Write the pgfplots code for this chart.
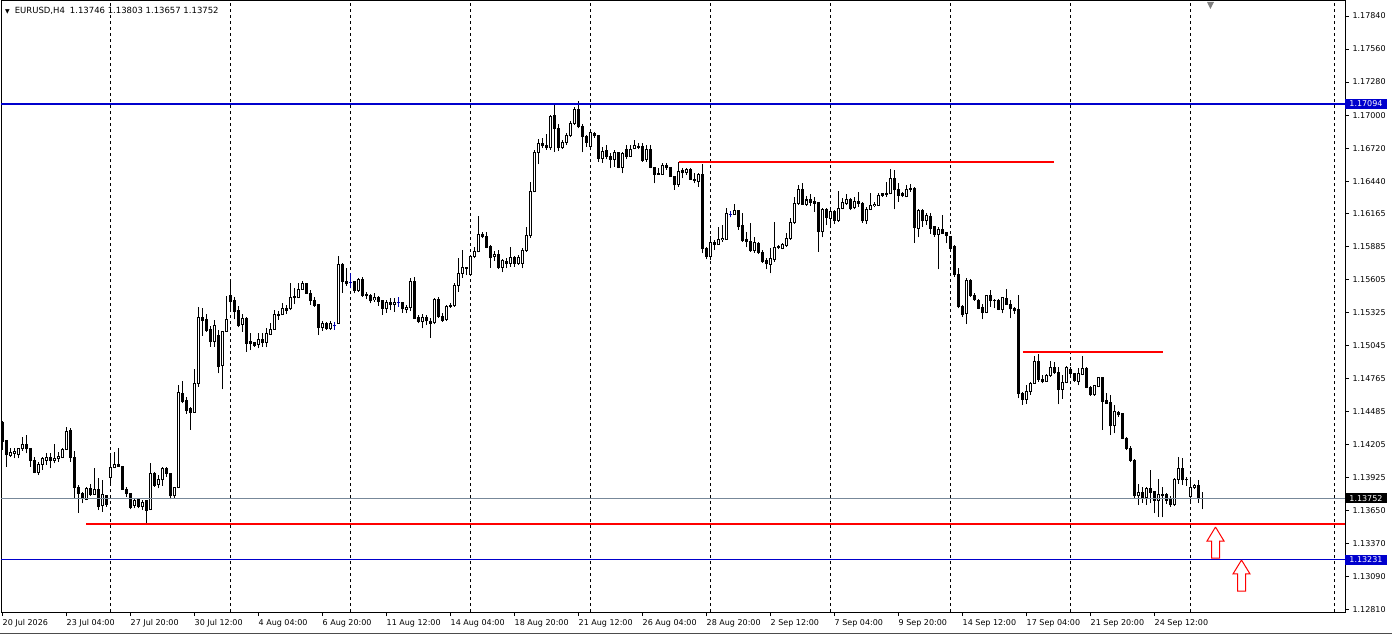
\documentclass[border=0pt]{standalone}
\usepackage{fontspec}
\setmainfont{DejaVu Sans}
\usepackage{pgfplots}
\usepackage{pgfplotstable}
\pgfplotsset{compat=1.18}
\definecolor{mtblue}{RGB}{0,0,205}
\definecolor{mtred}{RGB}{255,0,0}
\definecolor{bidgray}{RGB}{119,136,153}
\definecolor{dojiblue}{RGB}{0,0,170}

\pgfplotstableread{
i o h l c
0 1.14392 1.14409 1.14160 1.14231
1 1.14237 1.14245 1.14019 1.14118
2 1.14112 1.14180 1.14104 1.14140
3 1.14132 1.14174 1.14090 1.14146
4 1.14123 1.14180 1.14090 1.14174
5 1.14169 1.14273 1.14155 1.14203
6 1.14203 1.14287 1.14132 1.14169
7 1.14169 1.14174 1.14019 1.14070
8 1.14075 1.14104 1.13962 1.13968
9 1.13968 1.14061 1.13948 1.14041
10 1.14039 1.14104 1.13991 1.14084
11 1.14075 1.14132 1.14033 1.14098
12 1.14098 1.14132 1.14005 1.14070
13 1.14070 1.14211 1.14047 1.14090
14 1.14090 1.14146 1.14061 1.14104
15 1.14098 1.14174 1.14090 1.14166
16 1.14166 1.14358 1.14160 1.14321
17 1.14324 1.14350 1.14061 1.14098
18 1.14098 1.14155 1.13750 1.13844
19 1.13844 1.13863 1.13629 1.13793
20 1.13793 1.13807 1.13708 1.13750
21 1.13742 1.13844 1.13736 1.13835
22 1.13835 1.13872 1.13770 1.13779
23 1.13784 1.14005 1.13779 1.13827
24 1.13827 1.13920 1.13651 1.13685
25 1.13688 1.13906 1.13637 1.13779
26 1.13770 1.13779 1.13680 1.13702
27 1.13928 1.14132 1.13855 1.14013
28 1.14013 1.14140 1.14005 1.14033
29 1.14033 1.14174 1.14019 1.14019
30 1.14019 1.14025 1.13821 1.13827
31 1.13827 1.13849 1.13764 1.13793
32 1.13793 1.13798 1.13657 1.13671
33 1.13691 1.13750 1.13666 1.13736
34 1.13745 1.13750 1.13666 1.13680
35 1.13680 1.13736 1.13651 1.13716
36 1.13728 1.13736 1.13538 1.13651
37 1.13657 1.14053 1.13651 1.13957
38 1.13962 1.13976 1.13849 1.13863
39 1.13869 1.13948 1.13835 1.13906
40 1.13906 1.14019 1.13855 1.14005
41 1.14005 1.14013 1.13934 1.13962
42 1.13962 1.13968 1.13742 1.13770
43 1.13770 1.13849 1.13750 1.13844
44 1.13844 1.14711 1.13835 1.14646
45 1.14641 1.14745 1.14556 1.14570
46 1.14576 1.14613 1.14466 1.14499
47 1.14508 1.14528 1.14330 1.14477
48 1.14480 1.14844 1.14477 1.14726
49 1.14726 1.15370 1.14697 1.15285
50 1.15285 1.15362 1.15127 1.15257
51 1.15263 1.15313 1.15164 1.15172
52 1.15178 1.15212 1.15036 1.15079
53 1.15079 1.15263 1.15036 1.15220
54 1.15135 1.15178 1.14810 1.14872
55 1.14875 1.15172 1.14675 1.15169
56 1.15169 1.15466 1.15164 1.15263
57 1.15466 1.15607 1.15333 1.15418
58 1.15424 1.15460 1.15268 1.15333
59 1.15339 1.15381 1.15200 1.15220
60 1.15226 1.15313 1.15164 1.15277
61 1.15277 1.15285 1.14994 1.15065
62 1.15076 1.15149 1.15008 1.15059
63 1.15073 1.15073 1.15036 1.15045
64 1.15056 1.15149 1.15022 1.15101
65 1.15101 1.15149 1.15036 1.15070
66 1.15073 1.15192 1.15031 1.15144
67 1.15141 1.15240 1.15135 1.15186
68 1.15183 1.15347 1.15178 1.15305
69 1.15313 1.15339 1.15263 1.15299
70 1.15305 1.15410 1.15305 1.15361
71 1.15361 1.15390 1.15313 1.15347
72 1.15356 1.15573 1.15347 1.15455
73 1.15460 1.15531 1.15398 1.15452
74 1.15455 1.15579 1.15446 1.15525
75 1.15523 1.15596 1.15517 1.15568
76 1.15568 1.15579 1.15483 1.15489
77 1.15489 1.15517 1.15390 1.15426
78 1.15432 1.15460 1.15376 1.15384
79 1.15390 1.15390 1.15135 1.15198
80 1.15198 1.15254 1.15172 1.15234
81 1.15234 1.15248 1.15178 1.15192
82 1.15192 1.15257 1.15178 1.15234
83 1.15212 1.15248 1.15178 1.15212
84 1.15234 1.15805 1.15229 1.15729
85 1.15729 1.15749 1.15494 1.15588
86 1.15593 1.15701 1.15554 1.15568
87 1.15582 1.15658 1.15531 1.15582
88 1.15588 1.15596 1.15489 1.15511
89 1.15511 1.15616 1.15503 1.15607
90 1.15607 1.15624 1.15460 1.15469
91 1.15475 1.15503 1.15438 1.15466
92 1.15469 1.15480 1.15404 1.15424
93 1.15432 1.15494 1.15418 1.15455
94 1.15455 1.15466 1.15384 1.15418
95 1.15424 1.15432 1.15305 1.15361
96 1.15356 1.15432 1.15325 1.15412
97 1.15415 1.15446 1.15347 1.15398
98 1.15398 1.15446 1.15333 1.15410
99 1.15410 1.15455 1.15376 1.15410
100 1.15410 1.15418 1.15325 1.15356
101 1.15352 1.15389 1.15318 1.15369
102 1.15366 1.15621 1.15338 1.15593
103 1.15593 1.15629 1.15270 1.15276
104 1.15282 1.15304 1.15234 1.15253
105 1.15248 1.15310 1.15191 1.15284
106 1.15284 1.15304 1.15219 1.15256
107 1.15253 1.15276 1.15112 1.15231
108 1.15239 1.15446 1.15225 1.15440
109 1.15440 1.15460 1.15282 1.15296
110 1.15296 1.15318 1.15248 1.15262
111 1.15267 1.15389 1.15253 1.15381
112 1.15389 1.15403 1.15366 1.15378
113 1.15383 1.15573 1.15375 1.15559
114 1.15559 1.15785 1.15502 1.15658
115 1.15658 1.15855 1.15621 1.15706
116 1.15708 1.15714 1.15643 1.15700
117 1.15649 1.15813 1.15643 1.15805
118 1.15799 1.15884 1.15785 1.15847
119 1.15841 1.16144 1.15836 1.15988
120 1.15988 1.16011 1.15954 1.15969
121 1.15974 1.16005 1.15870 1.15878
122 1.15884 1.15898 1.15706 1.15790
123 1.15799 1.15847 1.15762 1.15819
124 1.15819 1.15855 1.15694 1.15706
125 1.15706 1.15776 1.15666 1.15765
126 1.15762 1.15785 1.15700 1.15742
127 1.15742 1.15884 1.15714 1.15793
128 1.15793 1.15805 1.15714 1.15742
129 1.15742 1.15813 1.15728 1.15793
130 1.15742 1.15870 1.15700 1.15855
131 1.15850 1.16053 1.15841 1.15983
132 1.15977 1.16429 1.15960 1.16350
133 1.16350 1.16704 1.16344 1.16684
134 1.16684 1.16794 1.16582 1.16760
135 1.16760 1.16802 1.16718 1.16740
136 1.16746 1.16836 1.16704 1.16723
137 1.16723 1.17000 1.16704 1.16986
138 1.16995 1.17099 1.16689 1.16887
139 1.16887 1.16921 1.16695 1.16723
140 1.16723 1.16788 1.16712 1.16769
141 1.16769 1.16845 1.16746 1.16831
142 1.16825 1.16949 1.16817 1.16930
143 1.16930 1.17071 1.16916 1.17051
144 1.17051 1.17119 1.16887 1.16901
145 1.16907 1.16921 1.16684 1.16817
146 1.16817 1.16831 1.16732 1.16769
147 1.16732 1.16873 1.16718 1.16853
148 1.16845 1.16853 1.16808 1.16825
149 1.16831 1.16831 1.16605 1.16633
150 1.16633 1.16732 1.16596 1.16689
151 1.16696 1.16747 1.16625 1.16648
152 1.16653 1.16676 1.16549 1.16625
153 1.16625 1.16704 1.16563 1.16682
154 1.16682 1.16690 1.16549 1.16557
155 1.16557 1.16690 1.16506 1.16676
156 1.16710 1.16747 1.16625 1.16648
157 1.16653 1.16747 1.16648 1.16710
158 1.16719 1.16789 1.16710 1.16738
159 1.16733 1.16761 1.16710 1.16727
160 1.16733 1.16761 1.16605 1.16614
161 1.16625 1.16747 1.16605 1.16710
162 1.16710 1.16747 1.16549 1.16557
163 1.16557 1.16563 1.16422 1.16498
164 1.16506 1.16549 1.16492 1.16498
165 1.16498 1.16591 1.16492 1.16569
166 1.16569 1.16591 1.16535 1.16555
167 1.16557 1.16563 1.16478 1.16478
168 1.16478 1.16484 1.16365 1.16408
169 1.16413 1.16605 1.16393 1.16521
170 1.16526 1.16549 1.16464 1.16512
171 1.16512 1.16549 1.16492 1.16535
172 1.16540 1.16549 1.16450 1.16456
173 1.16458 1.16506 1.16422 1.16444
174 1.16436 1.16506 1.16393 1.16492
175 1.16492 1.16586 1.15828 1.15870
176 1.15870 1.15885 1.15777 1.15805
177 1.15800 1.15975 1.15771 1.15918
178 1.15921 1.15941 1.15856 1.15904
179 1.15904 1.16054 1.15899 1.15941
180 1.15941 1.16068 1.15927 1.15952
181 1.15949 1.16210 1.15941 1.16167
182 1.16159 1.16187 1.16133 1.16159
183 1.16159 1.16246 1.16153 1.16187
184 1.16187 1.16187 1.16026 1.16054
185 1.16060 1.16167 1.15927 1.15935
186 1.15941 1.16012 1.15879 1.15927
187 1.15932 1.16082 1.15842 1.15851
188 1.15851 1.15969 1.15834 1.15921
189 1.15913 1.15927 1.15822 1.15834
190 1.15834 1.15856 1.15749 1.15757
191 1.15763 1.15786 1.15692 1.15738
192 1.15735 1.15870 1.15658 1.15780
193 1.15777 1.16097 1.15757 1.15876
194 1.15885 1.15899 1.15862 1.15876
195 1.15870 1.15913 1.15862 1.15899
196 1.15893 1.15998 1.15885 1.15955
197 1.15955 1.16125 1.15941 1.16088
198 1.16088 1.16309 1.16077 1.16252
199 1.16252 1.16408 1.16238 1.16365
200 1.16371 1.16422 1.16238 1.16246
201 1.16246 1.16314 1.16229 1.16280
202 1.16280 1.16331 1.16229 1.16257
203 1.16266 1.16302 1.16181 1.16251
204 1.16257 1.16266 1.15842 1.16011
205 1.16011 1.16209 1.15963 1.16201
206 1.16201 1.16209 1.16068 1.16133
207 1.16124 1.16209 1.16054 1.16186
208 1.16186 1.16195 1.16076 1.16110
209 1.16110 1.16359 1.16096 1.16209
210 1.16209 1.16294 1.16201 1.16257
211 1.16251 1.16331 1.16237 1.16285
212 1.16285 1.16294 1.16195 1.16209
213 1.16215 1.16308 1.16201 1.16266
214 1.16266 1.16350 1.16223 1.16251
215 1.16251 1.16266 1.16088 1.16104
216 1.16104 1.16223 1.16076 1.16201
217 1.16201 1.16342 1.16195 1.16237
218 1.16232 1.16266 1.16218 1.16243
219 1.16237 1.16336 1.16229 1.16322
220 1.16322 1.16336 1.16308 1.16331
221 1.16328 1.16435 1.16308 1.16336
222 1.16331 1.16540 1.16328 1.16464
223 1.16464 1.16534 1.16201 1.16365
224 1.16365 1.16421 1.16266 1.16322
225 1.16336 1.16350 1.16302 1.16317
226 1.16308 1.16407 1.16302 1.16370
227 1.16379 1.16415 1.16350 1.16370
228 1.16379 1.16387 1.15918 1.16045
229 1.16039 1.16201 1.15963 1.16195
230 1.16195 1.16201 1.16054 1.16104
231 1.16104 1.16167 1.16068 1.16147
232 1.16144 1.16172 1.15991 1.16039
233 1.16054 1.16059 1.15969 1.15991
234 1.15991 1.16054 1.15692 1.16034
235 1.16034 1.16153 1.15991 1.15997
236 1.16003 1.16011 1.15912 1.15983
237 1.15969 1.15974 1.15842 1.15870
238 1.15884 1.15898 1.15630 1.15652
239 1.15652 1.15700 1.15361 1.15375
240 1.15381 1.15389 1.15290 1.15313
241 1.15319 1.15615 1.15228 1.15601
242 1.15601 1.15610 1.15460 1.15468
243 1.15474 1.15488 1.15426 1.15437
244 1.15432 1.15437 1.15353 1.15361
245 1.15369 1.15398 1.15268 1.15327
246 1.15327 1.15474 1.15319 1.15466
247 1.15466 1.15516 1.15375 1.15426
248 1.15432 1.15437 1.15361 1.15426
249 1.15432 1.15437 1.15347 1.15353
250 1.15353 1.15460 1.15319 1.15451
251 1.15447 1.15523 1.15390 1.15398
252 1.15398 1.15432 1.15277 1.15356
253 1.15356 1.15376 1.15314 1.15342
254 1.15348 1.15475 1.14598 1.14641
255 1.14641 1.14655 1.14542 1.14590
256 1.14590 1.14711 1.14550 1.14655
257 1.14655 1.14740 1.14627 1.14726
258 1.14726 1.14957 1.14720 1.14909
259 1.14909 1.14974 1.14740 1.14760
260 1.14762 1.14796 1.14726 1.14740
261 1.14745 1.14805 1.14740 1.14796
262 1.14791 1.14915 1.14782 1.14861
263 1.14861 1.14909 1.14805 1.14816
264 1.14819 1.14867 1.14548 1.14675
265 1.14675 1.14796 1.14593 1.14734
266 1.14734 1.14873 1.14726 1.14859
267 1.14844 1.14861 1.14796 1.14805
268 1.14805 1.14810 1.14740 1.14748
269 1.14740 1.14853 1.14711 1.14805
270 1.14802 1.14957 1.14796 1.14853
271 1.14853 1.14867 1.14683 1.14689
272 1.14692 1.14703 1.14618 1.14627
273 1.14627 1.14711 1.14618 1.14703
274 1.14697 1.14782 1.14692 1.14777
275 1.14777 1.14782 1.14330 1.14570
276 1.14576 1.14641 1.14550 1.14556
277 1.14562 1.14627 1.14287 1.14364
278 1.14367 1.14542 1.14302 1.14485
279 1.14480 1.14494 1.14443 1.14457
280 1.14466 1.14466 1.14251 1.14259
281 1.14259 1.14273 1.14160 1.14174
282 1.14174 1.14194 1.14061 1.14075
283 1.14075 1.14081 1.13750 1.13770
284 1.13770 1.13872 1.13694 1.13801
285 1.13801 1.13844 1.13714 1.13756
286 1.13756 1.13849 1.13694 1.13835
287 1.13835 1.13991 1.13708 1.13798
288 1.13807 1.13815 1.13623 1.13731
289 1.13731 1.13911 1.13595 1.13779
290 1.13784 1.13844 1.13589 1.13770
291 1.13784 1.13793 1.13702 1.13736
292 1.13750 1.13770 1.13680 1.13694
293 1.13694 1.13920 1.13685 1.13911
294 1.13911 1.14104 1.13872 1.14005
295 1.14005 1.14090 1.13863 1.13906
296 1.13911 1.13928 1.13855 1.13906
297 1.13764 1.13920 1.13714 1.13844
298 1.13841 1.13872 1.13827 1.13863
299 1.13863 1.13906 1.13714 1.13750
300 1.13746 1.13803 1.13657 1.13752
}\candles

% candles whose open equals their close (drawn in the line colour)
\pgfplotstableread{
i o h l c
83 1.15212 1.15248 1.15178 1.15212
87 1.15582 1.15658 1.15531 1.15582
99 1.15410 1.15455 1.15376 1.15410
182 1.16159 1.16187 1.16133 1.16159
}\dojis

\pgfplotsset{
  candle/.style={draw=none, no markers, forget plot,
    error bars/y dir=plus, error bars/y explicit, error bars/error mark=none},
}

\begin{document}
\begin{tikzpicture}
\begin{axis}[
  scale only axis, width=1344pt, height=611pt,
  xmin=-0.25, xmax=335.75, ymin=1.127862, ymax=1.179675,
  clip=false,
  axis line style={black, line width=1pt},
  xtick pos=left, ytick pos=right, yticklabel pos=right,
  tick align=outside, major tick length=4pt,
  tick style={black, line width=1pt},
  scaled y ticks=false,
  xtick={0,16,32,48,64,80,96,112,128,144,160,176,192,208,224,240,256,272,288},
  xticklabels={20 Jul 2026,23 Jul 04:00,27 Jul 20:00,30 Jul 12:00,4 Aug 04:00,6 Aug 20:00,11 Aug 12:00,14 Aug 04:00,18 Aug 20:00,21 Aug 12:00,26 Aug 04:00,28 Aug 20:00,2 Sep 12:00,7 Sep 04:00,9 Sep 20:00,14 Sep 12:00,17 Sep 04:00,21 Sep 20:00,24 Sep 12:00},
  ytick={1.12810,1.13090,1.13370,1.13650,1.13925,1.14205,1.14485,1.14765,1.15045,1.15325,1.15605,1.15885,1.16165,1.16440,1.16720,1.17000,1.17280,1.17560,1.17840},
  yticklabels={1.12810,1.13090,1.13370,1.13650,1.13925,1.14205,1.14485,1.14765,1.15045,1.15325,1.15605,1.15885,1.16165,1.16440,1.16720,1.17000,1.17280,1.17560,1.17840},
  ticklabel style={font=\fontsize{8}{9.6}\selectfont, text=black},
  xticklabel style={anchor=north west, inner xsep=0.5pt},
  yticklabel style={anchor=west},
  extra x ticks={27,57,87,117,147,177,207,237,267,297,333},
  extra x tick labels={},
  extra x tick style={grid=major, major tick length=0pt, major grid style={black, line width=1pt, dash pattern=on 3pt off 3pt}},
]
% wicks
\addplot[candle, error bars/error bar style={draw=black, line width=1pt}]
  table[x=i, y=l, y error expr=\thisrow{h}-\thisrow{l}] {\candles};
% bearish bodies (open above close)
\addplot[candle, error bars/error bar style={draw=black, line width=3pt}]
  table[x expr={(\thisrow{o}-\thisrow{c})*1000>0.001 ? \thisrow{i} : nan}, y expr=\thisrow{c}-0.0000424, y error expr=\thisrow{o}-\thisrow{c}+0.0000848] {\candles};
% bullish bodies outline (close above open)
\addplot[candle, error bars/error bar style={draw=black, line width=3pt}]
  table[x expr={(\thisrow{c}-\thisrow{o})*1000>0.001 ? \thisrow{i} : nan}, y expr=\thisrow{o}-0.0000424, y error expr=\thisrow{c}-\thisrow{o}+0.0000848] {\candles};
% bullish bodies inner (white)
\addplot[candle, error bars/error bar style={draw=white, line width=1pt}]
  table[x expr={(\thisrow{c}-\thisrow{o})*1000>0.09 ? \thisrow{i} : nan}, y expr=\thisrow{o}+0.0000424, y error expr=\thisrow{c}-\thisrow{o}-0.0000848] {\candles};
% doji candles
\addplot[candle, error bars/error bar style={draw=dojiblue, line width=1pt}]
  table[x=i, y=l, y error expr=\thisrow{h}-\thisrow{l}] {\dojis};
\addplot[candle, error bars/error bar style={draw=dojiblue, line width=3pt}]
  table[x=i, y expr=\thisrow{o}-0.0000424, y error expr=0.0000848] {\dojis};

% horizontal levels
\addplot[mtblue, line width=1.6pt, no markers] coordinates {(-0.25,1.17094) (335.75,1.17094)};
\addplot[mtblue, line width=1.6pt, no markers] coordinates {(-0.25,1.13231) (335.75,1.13231)};
\addplot[bidgray, line width=1pt, no markers] coordinates {(-0.25,1.13752) (335.75,1.13752)};
\addplot[mtred, line width=2pt, no markers] coordinates {(169.2,1.16605) (263,1.16605)};
\addplot[mtred, line width=2pt, no markers] coordinates {(255.2,1.14989) (290.2,1.14989)};
\addplot[mtred, line width=2pt, no markers] coordinates {(21,1.13533) (335.75,1.13533)};

% arrows
\addplot[fill=white, draw=mtred, line width=1pt, no markers] coordinates {(303.375,1.13507) (305.5,1.13388) (304.375,1.13388) (304.375,1.13244) (302.375,1.13244) (302.375,1.13388) (301.25,1.13388) (303.375,1.13507)};
\addplot[fill=white, draw=mtred, line width=1pt, no markers] coordinates {(309.875,1.13227) (312,1.13109) (310.875,1.13109) (310.875,1.12964) (308.875,1.12964) (308.875,1.13109) (307.75,1.13109) (309.875,1.13227)};
% shift marker
\addplot[fill=gray, draw=none, no markers] coordinates {(301.25,1.17959) (303.0,1.17959) (302.1,1.17900) (301.25,1.17959)};

% price labels
\node[fill=mtblue, text=white, anchor=west, inner xsep=4.2pt, inner ysep=0pt, minimum height=10pt, font=\fontsize{8}{9.6}\selectfont] at (axis cs:335.75,1.17094) {1.17094};
\node[fill=mtblue, text=white, anchor=west, inner xsep=4.2pt, inner ysep=0pt, minimum height=10pt, font=\fontsize{8}{9.6}\selectfont] at (axis cs:335.75,1.13231) {1.13231};
\node[fill=black, text=white, anchor=west, inner xsep=4.2pt, inner ysep=0pt, minimum height=10pt, font=\fontsize{8}{9.6}\selectfont] at (axis cs:335.75,1.13752) {1.13752};

% title
\node[anchor=west, inner sep=0pt, xshift=4pt, yshift=-10pt, font=\fontsize{8.5}{10}\selectfont] at (rel axis cs:0,1) {{\fontsize{6}{6}\selectfont ▼}\hspace{5pt}EURUSD,H4\hspace{5pt}1.13746 1.13803 1.13657 1.13752};

\coordinate (sw) at (rel axis cs:0,0);
\coordinate (ne) at (rel axis cs:1,1);
\end{axis}
\draw[gray!60!black, line width=1pt] ([xshift=-1pt,yshift=-21.5pt]sw) -- ++(1392pt,0);
\pgfresetboundingbox
\path[use as bounding box] ([xshift=-1pt,yshift=-24pt]sw) rectangle ([xshift=47pt,yshift=1pt]ne);
\end{tikzpicture}
\end{document}
